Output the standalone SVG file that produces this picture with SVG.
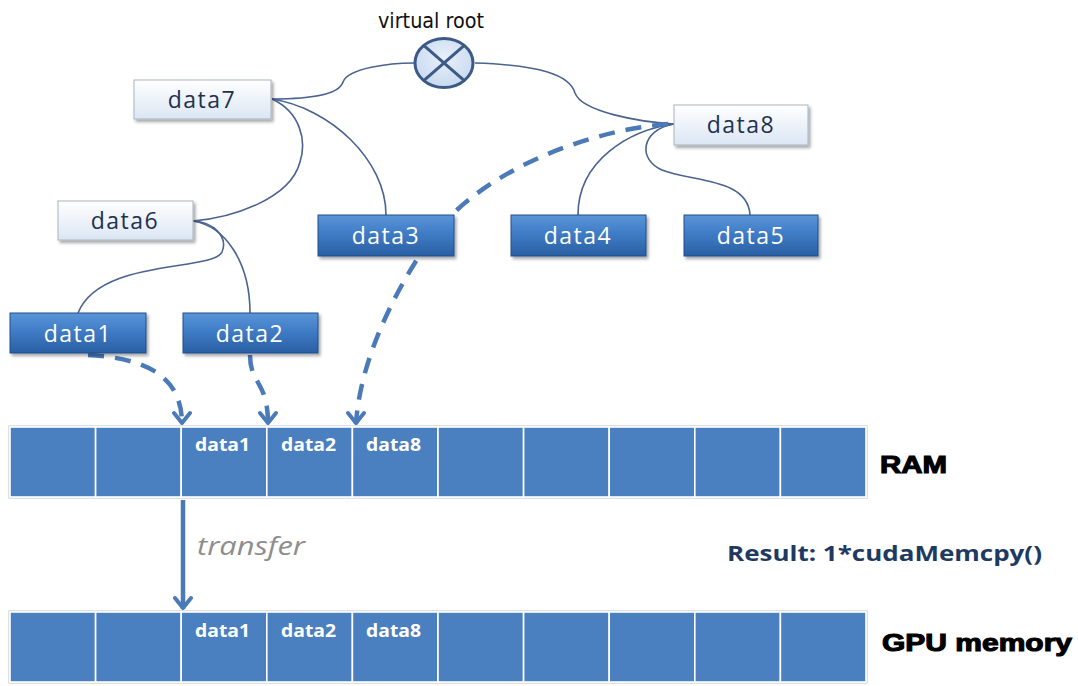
<svg xmlns="http://www.w3.org/2000/svg" width="1078" height="686" viewBox="0 0 1078 686">
  <defs>
    <linearGradient id="gLight" x1="0" y1="0" x2="0" y2="1">
      <stop offset="0" stop-color="#ffffff"/>
      <stop offset="1" stop-color="#dbe6f4"/>
    </linearGradient>
    <linearGradient id="gBlue" x1="0" y1="0" x2="0" y2="1">
      <stop offset="0" stop-color="#5a95d8"/>
      <stop offset="0.45" stop-color="#3f7cc6"/>
      <stop offset="1" stop-color="#2a5fa3"/>
    </linearGradient>
    <radialGradient id="gRoot" cx="0.5" cy="0.4" r="0.6">
      <stop offset="0" stop-color="#e8f0fa"/>
      <stop offset="1" stop-color="#c8d9ef"/>
    </radialGradient>
    <filter id="shadow" x="-10%" y="-20%" width="125%" height="150%">
      <feDropShadow dx="2" dy="2.5" stdDeviation="1.5" flood-color="#000" flood-opacity="0.35"/>
    </filter>
    <marker id="chevDown" viewBox="-10 -14 20 16" refX="0" refY="0" markerWidth="20" markerHeight="16" markerUnits="userSpaceOnUse" orient="0">
      <polyline points="-8,-11 0,-1 8,-11" fill="none" stroke="#4a7ab8" stroke-width="4" stroke-linejoin="round" stroke-linecap="round"/>
    </marker>
    <style>
      .tree { fill: none; stroke: #4a6392; stroke-width: 1.6; }
      .dash { fill: none; stroke: #4a7ab8; stroke-width: 4.5; stroke-dasharray: 16 11; marker-end: url(#chevDown); }
      .light rect { fill: url(#gLight); stroke: #a9b3bf; stroke-width: 1; filter: url(#shadow); }
      .light text { fill: #1f3150; }
      .blue rect { fill: url(#gBlue); stroke: #1f4f8c; stroke-width: 1; filter: url(#shadow); }
      .blue text { fill: #ffffff; }
      .node text { font-family: "Open Sans", "Liberation Sans", sans-serif; font-size: 23px; letter-spacing: 1.5px; text-anchor: middle; }
      .cell { fill: #4a7fc0; stroke: #ffffff; stroke-width: 1.6; }
      .frame { fill: none; stroke: #c9cdd2; stroke-width: 1.2; }
      .cellTxt { font-family: "Open Sans", "Liberation Sans", sans-serif; font-weight: bold; font-size: 18px; fill: #ffffff; }
      .mem { font-family: "Liberation Sans", Arial, sans-serif; font-weight: bold; font-size: 24px; fill: #000000; stroke: #000; stroke-width: 1.1; }
    </style>
  </defs>

  <rect width="1078" height="686" fill="#ffffff"/>

  <!-- tree links and copy arrows -->
  <g id="connectors">
    <path class="tree" d="M272,99 C320,99 340,92 343,82 C348,68 390,63 414,63"/>
    <path class="tree" d="M475,63 C540,65 570,75 575,93 C582,112 640,122 674,124"/>
    <path class="tree" d="M272,99 C300,112 307,140 300,162 C290,200 230,218 193,221"/>
    <path class="tree" d="M272,99 C330,108 386,160 386,215"/>
    <path class="tree" d="M193,221 C215,222 228,238 222,252 C212,272 100,258 78,313"/>
    <path class="tree" d="M193,221 C225,226 250,262 250,313"/>
    <path class="tree" d="M674,124 C630,130 578,160 578,215"/>
    <path class="tree" d="M674,124 C640,130 638,160 662,170 C692,182 748,178 750,215"/>

    <path class="dash" d="M88,355 C140,358 182,372 182,424"/>
    <path class="dash" d="M250,355 C250,385 268,380 268,424"/>
    <path class="dash" d="M668,124 C590,130 480,170 430,240 C395,290 360,360 356,424"/>

    <!-- RAM to GPU transfer -->
    <line x1="183" y1="500" x2="183" y2="609" stroke="#4a7ab8" stroke-width="4.5" marker-end="url(#chevDown)"/>
  </g>

  <!-- virtual root -->
  <g id="virtual-root">
    <text x="431" y="28" font-family="DejaVu Sans Condensed, DejaVu Sans, sans-serif" font-stretch="condensed" font-size="21" fill="#111" text-anchor="middle" textLength="106" lengthAdjust="spacingAndGlyphs">virtual root</text>
    <ellipse cx="444" cy="63" rx="29" ry="24.5" fill="url(#gRoot)" stroke="#3b5a86" stroke-width="3"/>
    <line x1="424" y1="45.7" x2="464" y2="80.3" stroke="#3b5a86" stroke-width="3"/>
    <line x1="464" y1="45.7" x2="424" y2="80.3" stroke="#3b5a86" stroke-width="3"/>
  </g>

  <!-- inner nodes -->
  <g id="data7" class="node light"><rect x="134" y="80" width="137" height="39"/><text x="202" y="108">data7</text></g>
  <g id="data6" class="node light"><rect x="58" y="201" width="135" height="39"/><text x="125" y="229">data6</text></g>
  <g id="data8" class="node light"><rect x="674" y="105" width="134" height="40"/><text x="741" y="133">data8</text></g>

  <!-- leaf nodes -->
  <g id="data3" class="node blue"><rect x="318" y="215" width="136" height="41"/><text x="386" y="244">data3</text></g>
  <g id="data4" class="node blue"><rect x="511" y="215" width="135" height="41"/><text x="578" y="244">data4</text></g>
  <g id="data5" class="node blue"><rect x="684" y="215" width="134" height="41"/><text x="751" y="244">data5</text></g>
  <g id="data1" class="node blue"><rect x="10" y="313" width="136" height="40"/><text x="78" y="342">data1</text></g>
  <g id="data2" class="node blue"><rect x="183" y="313" width="135" height="40"/><text x="250" y="342">data2</text></g>

  <!-- host memory -->
  <g id="ram">
    <rect class="frame" x="9" y="426" width="858" height="72"/>
    <rect class="cell" x="10" y="427" width="85.6" height="70"/>
    <rect class="cell" x="95.6" y="427" width="85.6" height="70"/>
    <rect class="cell" x="181.2" y="427" width="85.6" height="70"/>
    <rect class="cell" x="266.8" y="427" width="85.6" height="70"/>
    <rect class="cell" x="352.4" y="427" width="85.6" height="70"/>
    <rect class="cell" x="438" y="427" width="85.6" height="70"/>
    <rect class="cell" x="523.6" y="427" width="85.6" height="70"/>
    <rect class="cell" x="609.2" y="427" width="85.6" height="70"/>
    <rect class="cell" x="694.8" y="427" width="85.6" height="70"/>
    <rect class="cell" x="780.4" y="427" width="85.6" height="70"/>
    <text class="cellTxt" x="195" y="451" textLength="55" lengthAdjust="spacingAndGlyphs">data1</text>
    <text class="cellTxt" x="281" y="451" textLength="55" lengthAdjust="spacingAndGlyphs">data2</text>
    <text class="cellTxt" x="366" y="451" textLength="55" lengthAdjust="spacingAndGlyphs">data8</text>
    <text class="mem" x="880" y="473" textLength="67" lengthAdjust="spacingAndGlyphs">RAM</text>
  </g>

  <g id="transfer-label">
    <text x="197" y="555" font-family="Open Sans, Liberation Sans, sans-serif" font-style="italic" font-size="26" fill="#8e8e8e" textLength="108" lengthAdjust="spacingAndGlyphs">transfer</text>
  </g>

  <g id="result-label">
    <text x="727" y="561" font-family="Open Sans, Liberation Sans, sans-serif" font-weight="bold" font-size="21" fill="#1f3a60" textLength="315" lengthAdjust="spacingAndGlyphs">Result: 1*cudaMemcpy()</text>
  </g>

  <!-- device memory -->
  <g id="gpu-memory">
    <rect class="frame" x="9" y="611" width="858" height="72"/>
    <rect class="cell" x="10" y="612" width="85.6" height="70"/>
    <rect class="cell" x="95.6" y="612" width="85.6" height="70"/>
    <rect class="cell" x="181.2" y="612" width="85.6" height="70"/>
    <rect class="cell" x="266.8" y="612" width="85.6" height="70"/>
    <rect class="cell" x="352.4" y="612" width="85.6" height="70"/>
    <rect class="cell" x="438" y="612" width="85.6" height="70"/>
    <rect class="cell" x="523.6" y="612" width="85.6" height="70"/>
    <rect class="cell" x="609.2" y="612" width="85.6" height="70"/>
    <rect class="cell" x="694.8" y="612" width="85.6" height="70"/>
    <rect class="cell" x="780.4" y="612" width="85.6" height="70"/>
    <text class="cellTxt" x="195" y="637" textLength="55" lengthAdjust="spacingAndGlyphs">data1</text>
    <text class="cellTxt" x="281" y="637" textLength="55" lengthAdjust="spacingAndGlyphs">data2</text>
    <text class="cellTxt" x="366" y="637" textLength="55" lengthAdjust="spacingAndGlyphs">data8</text>
    <text class="mem" x="882" y="651" textLength="190" lengthAdjust="spacingAndGlyphs">GPU memory</text>
  </g>
</svg>
